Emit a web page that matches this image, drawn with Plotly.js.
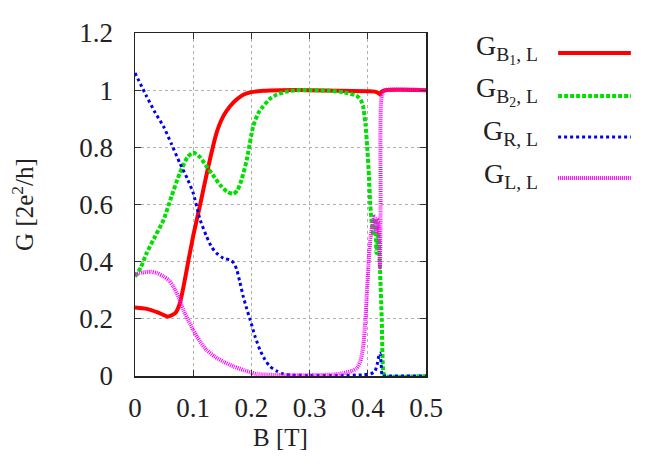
<!DOCTYPE html>
<html><head><meta charset="utf-8">
<script src="https://cdn.plot.ly/plotly-3.0.1.min.js"></script>
<style>html,body{margin:0;padding:0;background:#fff}#c{width:664px;height:465px}</style>
</head><body><div id="c"></div>
<script>
var B1_x = [0, 0.02, 0.04, 0.057, 0.07, 0.077, 0.085, 0.092, 0.1, 0.112, 0.126, 0.14, 0.152, 0.163, 0.175, 0.186, 0.2, 0.22, 0.25, 0.3, 0.35, 0.4, 0.412, 0.418, 0.421, 0.424, 0.43, 0.5];
var B1_y = [0.24, 0.235, 0.222, 0.208, 0.222, 0.254, 0.33, 0.406, 0.49, 0.6, 0.733, 0.85, 0.91, 0.943, 0.968, 0.984, 0.993, 0.998, 1.0, 1.0, 0.998, 0.996, 0.995, 0.99, 0.985, 0.995, 1.0, 1.0];

var B2_x = [0, 0.01, 0.02, 0.035, 0.049, 0.063, 0.077, 0.09, 0.1, 0.112, 0.123, 0.135, 0.146, 0.158, 0.169, 0.176, 0.183, 0.192, 0.203, 0.212, 0.22, 0.232, 0.243, 0.26, 0.278, 0.3, 0.335, 0.36, 0.381, 0.388, 0.392, 0.396, 0.399, 0.402, 0.404, 0.407, 0.41, 0.413, 0.415, 0.418, 0.421, 0.424, 0.427, 0.43, 0.5];
var B2_y = [0.348, 0.38, 0.43, 0.49, 0.546, 0.63, 0.71, 0.765, 0.782, 0.765, 0.733, 0.7, 0.669, 0.645, 0.637, 0.65, 0.686, 0.756, 0.873, 0.92, 0.943, 0.97, 0.984, 0.995, 1.0, 1.0, 0.998, 0.992, 0.98, 0.965, 0.943, 0.88, 0.8, 0.7, 0.605, 0.53, 0.49, 0.55, 0.43, 0.5, 0.37, 0.196, 0.01, 0.0, 0.0];

var R_x = [0, 0.02, 0.035, 0.049, 0.063, 0.077, 0.09, 0.1, 0.112, 0.123, 0.132, 0.14, 0.152, 0.163, 0.17, 0.175, 0.18, 0.186, 0.192, 0.198, 0.206, 0.215, 0.223, 0.232, 0.243, 0.255, 0.27, 0.3, 0.35, 0.39, 0.405, 0.412, 0.416, 0.419, 0.421, 0.423, 0.425, 0.43, 0.5];
var R_y = [1.06, 0.978, 0.92, 0.873, 0.81, 0.745, 0.69, 0.64, 0.546, 0.488, 0.45, 0.43, 0.412, 0.406, 0.395, 0.371, 0.33, 0.278, 0.235, 0.196, 0.14, 0.09, 0.058, 0.033, 0.018, 0.007, 0.003, 0.002, 0.002, 0.004, 0.008, 0.015, 0.04, 0.07, 0.08, 0.04, 0.0, 0.0, 0.0];

var L_x = [0, 0.013, 0.026, 0.038, 0.049, 0.058, 0.066, 0.075, 0.083, 0.092, 0.1, 0.112, 0.123, 0.137, 0.152, 0.17, 0.186, 0.2, 0.209, 0.25, 0.3, 0.34, 0.358, 0.372, 0.381, 0.387, 0.392, 0.396, 0.399, 0.402, 0.405, 0.409, 0.412, 0.415, 0.418, 0.42, 0.421, 0.422, 0.424, 0.43, 0.5];
var L_y = [0.356, 0.362, 0.365, 0.36, 0.348, 0.335, 0.313, 0.275, 0.231, 0.193, 0.161, 0.12, 0.091, 0.068, 0.05, 0.033, 0.021, 0.012, 0.007, 0.003, 0.003, 0.005, 0.01, 0.017, 0.027, 0.05, 0.103, 0.2, 0.313, 0.42, 0.49, 0.54, 0.558, 0.5, 0.546, 0.45, 0.38, 0.6, 0.98, 1.0, 1.0];

var names = ['G<sub>B<sub>1</sub>, L</sub>', 'G<sub>B<sub>2</sub>, L</sub>', 'G<sub>R, L</sub>', 'G<sub>L, L</sub>'];
var colors = ['#ff0000', '#00e000', '#0000ee', '#ff00ff'];
var dashes = ['solid', '4px,2px', '3px,3px', '1px,1px'];
var widths = [4, 4, 3, 4];
var xs = [B1_x, B2_x, R_x, L_x];
var ys = [B1_y, B2_y, R_y, L_y];

var xTicks = [0, 0.1, 0.2, 0.3, 0.4, 0.5];
var yTicks = [0, 0.2, 0.4, 0.6, 0.8, 1, 1.2];

var SERIF = 'Liberation Serif, Times New Roman, serif';

var traces = [0, 1, 2, 3].map(function(i){
  return {x: xs[i], y: ys[i], type: 'scatter', mode: 'lines', name: names[i],
    line: {color: colors[i], width: widths[i], dash: dashes[i], shape: 'spline', smoothing: 0.6},
    showlegend: false};
});

var ann = [], shapes = [];
var legText = [0.954, 0.832, 0.709, 0.586];
var legLine = [0.942, 0.816, 0.697, 0.577];
for (var i = 0; i < 4; i++) {
  ann.push({xref: 'paper', yref: 'paper', x: 1.392, y: legText[i], xanchor: 'right', yanchor: 'middle',
    text: names[i], showarrow: false, font: {family: SERIF, size: 28, color: '#222'}});
  shapes.push({type: 'line', xref: 'paper', yref: 'paper', x0: 1.454, x1: 1.704, y0: legLine[i], y1: legLine[i],
    line: {color: colors[i], width: widths[i], dash: dashes[i]}});
}

var tickFont = {family: SERIF, size: 27, color: '#222'};
var titleFont = {family: SERIF, size: 25, color: '#222'};
var layout = {
  width: 664, height: 465,
  margin: {l: 135, r: 238, t: 33, b: 89, pad: 0},
  paper_bgcolor: '#fff', plot_bgcolor: '#fff',
  font: {family: SERIF},
  showlegend: false,
  xaxis: {range: [0, 0.5], tickvals: xTicks, ticktext: xTicks.map(String), ticks: 'inside', ticklen: 6,
    tickcolor: '#333', mirror: 'allticks', showline: true, linecolor: '#222', linewidth: 1.5,
    showgrid: true, gridcolor: '#b0b0b0', griddash: 'dot', gridwidth: 1, zeroline: false,
    tickfont: tickFont, ticklabelstandoff: 7,
    title: {text: 'B [T]', font: titleFont, standoff: 6}},
  yaxis: {range: [0, 1.2], tickvals: yTicks, ticktext: yTicks.map(String), ticks: 'inside', ticklen: 6,
    tickcolor: '#333', mirror: 'allticks', showline: true, linecolor: '#222', linewidth: 1.5,
    showgrid: true, gridcolor: '#b0b0b0', griddash: 'dot', gridwidth: 1, zeroline: false,
    tickfont: tickFont, ticklabelstandoff: 15,
    title: {text: 'G [2e<sup>2</sup>/h]', font: titleFont, standoff: 38}},
  annotations: ann,
  shapes: shapes
};
Plotly.newPlot('c', traces, layout, {displayModeBar: false, staticPlot: true});
</script></body></html>
